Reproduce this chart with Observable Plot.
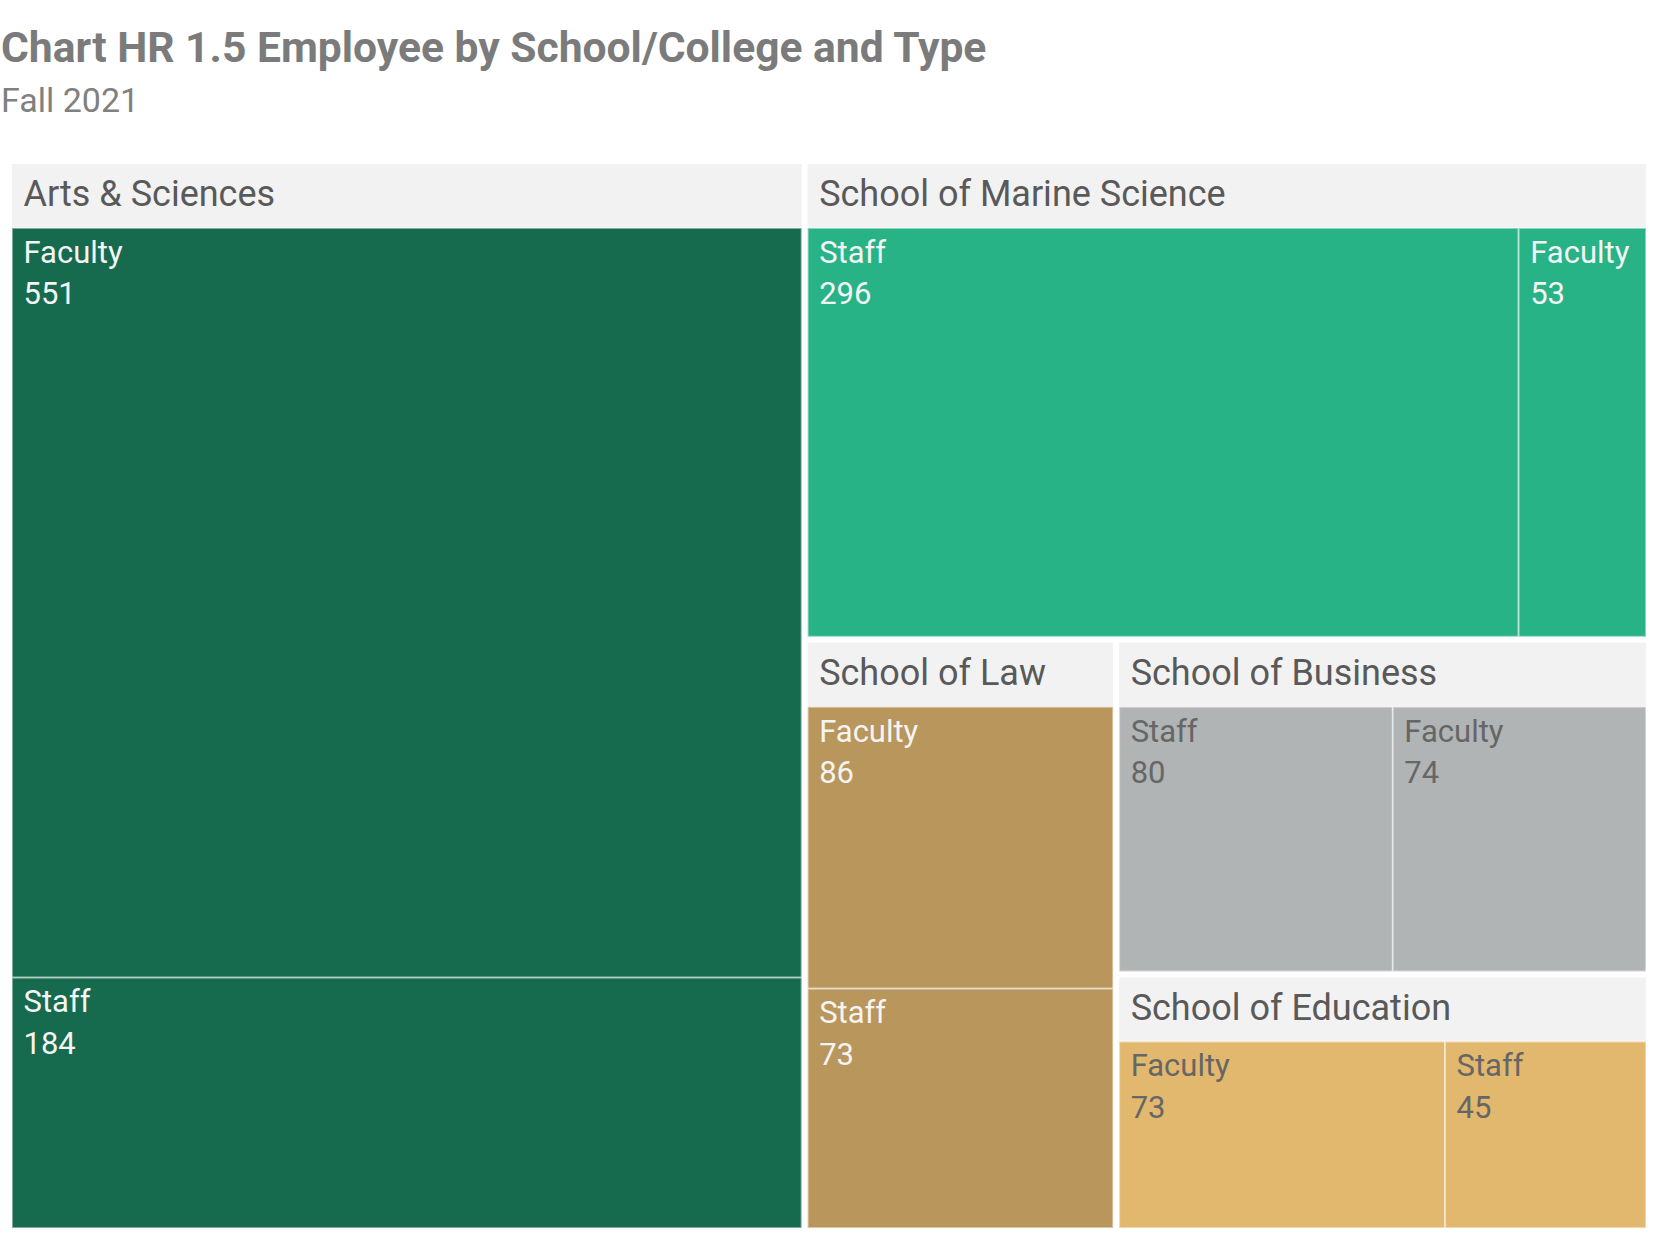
<!DOCTYPE html>
<html>
<head>
<meta charset="utf-8">
<script src="https://cdn.jsdelivr.net/npm/d3@7"></script>
<script src="https://cdn.jsdelivr.net/npm/@observablehq/plot@0.6"></script>
<style>
  html, body { margin: 0; padding: 0; background: #fff; }
  body { width: 1657px; height: 1236px; position: relative; overflow: hidden; font-family: Roboto, "Noto Sans", sans-serif; }
  #title { position: absolute; left: 1px; top: 24px; font-weight: bold; font-size: 42.6px; line-height: 46px; color: #7b7b7b; white-space: nowrap; }
  #subtitle { position: absolute; left: 1px; top: 80px; font-size: 34px; line-height: 40px; color: #808080; white-space: nowrap; }
  #chart { position: absolute; left: 0; top: 164px; }
</style>
</head>
<body>
<div id="title">Chart HR 1.5 Employee by School/College and Type</div>
<div id="subtitle">Fall 2021</div>
<div id="chart"></div>
<script>
// ---- data ----
const schools = ["Arts & Sciences", "School of Marine Science", "School of Law", "School of Business", "School of Education"];
const schoolColors = ["#166a4e", "#27b386", "#b9965b", "#b1b4b5", "#e2b86e"];
const darkTextSchools = ["School of Business", "School of Education"];

const cellSchool = ["Arts & Sciences", "Arts & Sciences", "School of Marine Science", "School of Marine Science", "School of Law", "School of Law", "School of Business", "School of Business", "School of Education", "School of Education"];
const cellType   = ["Faculty", "Staff", "Staff", "Faculty", "Faculty", "Staff", "Staff", "Faculty", "Faculty", "Staff"];
const cellCount  = [551, 184, 296, 53, 86, 73, 80, 74, 73, 45];

// ---- layout ----
const W = 1634, H = 1064, HEADER = 64;
const rows = cellCount.map((v, i) => ({school: cellSchool[i], type: cellType[i], count: v}));
const root = d3.hierarchy(d3.group(rows, d => d.school))
  .sum(d => d.count || 0)
  .sort((a, b) => b.value - a.value);

d3.treemap()
  .tile(d3.treemapSquarify.ratio(1))
  .size([W, H])
  .paddingInner(n => n.depth === 0 ? 6 : 0)
  .paddingTop(n => n.depth === 1 ? HEADER : 0)
  (root);

const groups = root.children.map(n => ({name: n.data[0], x0: n.x0, x1: n.x1, y0: n.y0, y1: n.y1}));
const leaves = root.leaves().map(n => ({school: n.data.school, type: n.data.type, count: n.data.count, x0: n.x0, x1: n.x1, y0: n.y0, y1: n.y1}));
const isDark = d => darkTextSchools.includes(d.school);

const chart = Plot.plot({
  width: 1657,
  height: 1072,
  margin: 0,
  x: {domain: [0, W], range: [12, 12 + W], axis: null},
  y: {domain: [0, H], range: [0, H], axis: null},
  color: {domain: schools, range: schoolColors},
  style: {fontFamily: "Roboto, 'Noto Sans', sans-serif", background: "white"},
  marks: [
    Plot.rect(groups, {x1: "x0", x2: "x1", y1: "y0", y2: d => d.y0 + HEADER, fill: "#f2f2f2"}),
    Plot.text(groups, {x: "x0", y: d => d.y0 + HEADER / 2 - 2, text: "name", dx: 11, textAnchor: "start", lineAnchor: "middle", fontSize: 36, fill: "#595959"}),
    Plot.rect(leaves, {x1: "x0", x2: "x1", y1: "y0", y2: "y1", fill: "school", stroke: "white", strokeOpacity: 0.45, strokeWidth: 2}),
    Plot.text(leaves.filter(d => !isDark(d)), {x: "x0", y: "y0", text: d => d.type + "\n" + d.count, dx: 11, dy: 5, textAnchor: "start", lineAnchor: "top", lineHeight: 1.33, fontSize: 31, fill: "#f4f4f4"}),
    Plot.text(leaves.filter(isDark), {x: "x0", y: "y0", text: d => d.type + "\n" + d.count, dx: 11, dy: 5, textAnchor: "start", lineAnchor: "top", lineHeight: 1.33, fontSize: 31, fill: "#666666"})
  ]
});
document.getElementById("chart").appendChild(chart);
</script>
</body>
</html>
